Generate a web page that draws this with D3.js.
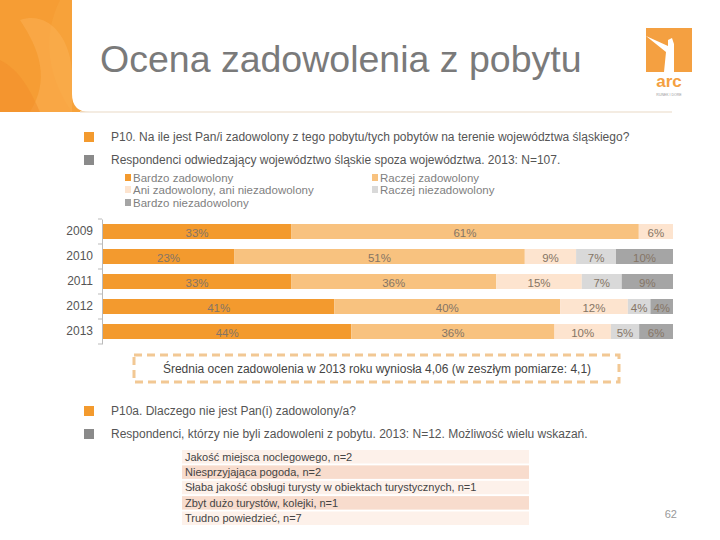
<!DOCTYPE html>
<head>
  <meta charset="utf-8" />
  <script src="https://d3js.org/d3.v7.min.js"></script>
  <style>
    body { margin: 0; background: #fff; }
    svg { font-family: "Liberation Sans", Arial, sans-serif; }
  </style>
</head>
<body>
  <div id="chart"></div>
  <script>
    // dane
    const years = ["2009", "2010", "2011", "2012", "2013"];
    const categories = ["Bardzo zadowolony", "Raczej zadowolony", "Ani zadowolony, ani niezadowolony", "Raczej niezadowolony", "Bardzo niezadowolony"];
    const bardzoZad = [33, 23, 33, 41, 44];
    const raczejZad = [61, 51, 36, 40, 36];
    const ani = [6, 9, 15, 12, 10];
    const raczejNiezad = [0, 7, 7, 4, 5];
    const bardzoNiezad = [0, 10, 9, 4, 6];
    const colors = ["#f39a2e", "#f8c27f", "#fde4cf", "#d9d9d9", "#a5a5a5"];

    const reasons = ["Jakość miejsca noclegowego, n=2", "Niesprzyjająca pogoda, n=2",
      "Słaba jakość obsługi turysty w obiektach turystycznych, n=1",
      "Zbyt dużo turystów, kolejki, n=1", "Trudno powiedzieć, n=7"];

    const width = 720, height = 540;
    const svg = d3.select("#chart").append("svg")
      .attr("width", width).attr("height", height);

    // naglowek
    svg.append("rect").attr("x", 0).attr("y", 0).attr("width", 90).attr("height", 112).attr("fill", "#f7a23a");
    svg.append("path").attr("d", "M0,0 L60,0 C40,40 50,80 72,112 L0,112 Z").attr("fill", "#f59a30").attr("opacity", 0.6);
    svg.append("path").attr("d", "M20,20 C50,10 70,40 72,70 L72,112 L30,112 C50,80 40,50 20,20 Z").attr("fill", "#fbb255").attr("opacity", 0.5);
    svg.append("path").attr("d", "M0,60 C20,70 30,90 40,112 L0,112 Z").attr("fill", "#f18e2a").attr("opacity", 0.5);
    svg.append("path")
      .attr("d", "M72,0 L720,0 L720,112 L90,112 Q72,112 72,94 Z")
      .attr("fill", "#fff");
    svg.append("line").attr("x1", 80).attr("x2", 672).attr("y1", 112).attr("y2", 112)
      .attr("stroke", "#f1e6d8").attr("stroke-width", 1.5);

    svg.append("text").attr("x", 100).attr("y", 72)
      .attr("font-size", 37.5).attr("fill", "#7a7a7a")
      .text("Ocena zadowolenia z pobytu");

    // logo
    const logo = svg.append("g").attr("transform", "translate(646,28)");
    logo.append("rect").attr("width", 46).attr("height", 44).attr("fill", "#f4a041");
    logo.append("path").attr("d", "M0,8 L22,18 L22,12 L26,10 L28,16 L28,44 L18,44 L20,24 Z").attr("fill", "#fff");
    logo.append("text").attr("x", 23).attr("y", 59).attr("text-anchor", "middle")
      .attr("font-size", 17).attr("font-weight", "bold").attr("fill", "#f4a041").text("arc");
    logo.append("text").attr("x", 23).attr("y", 68).attr("text-anchor", "middle")
      .attr("font-size", 3.5).attr("fill", "#999").text("RUNEK I DORE");

    // punkty
    function bullet(y, color, txt) {
      svg.append("rect").attr("x", 84).attr("y", y - 9).attr("width", 10).attr("height", 10).attr("fill", color);
      svg.append("text").attr("x", 111).attr("y", y).attr("font-size", 12).attr("fill", "#555").text(txt);
    }
    bullet(141, "#f39a2e", "P10. Na ile jest Pan/i zadowolony z tego pobytu/tych pobytów na terenie województwa śląskiego?");
    bullet(164, "#8a8a8a", "Respondenci odwiedzający województwo śląskie spoza województwa. 2013: N=107.");

    // legenda
    const legendPos = [[125, 182], [372, 182], [125, 194], [372, 194], [125, 207]];
    const legend = svg.append("g").selectAll("g").data(categories).join("g")
      .attr("transform", (d, i) => "translate(" + legendPos[i][0] + "," + legendPos[i][1] + ")");
    legend.append("rect").attr("x", 0).attr("y", -8).attr("width", 6).attr("height", 7)
      .attr("fill", (d, i) => colors[i]);
    legend.append("text").attr("x", 8).attr("y", 0).attr("font-size", 11.5).attr("fill", "#7f7f7f")
      .text(d => d);

    // wykres
    const table = years.map((y, i) => ({
      year: y, 0: bardzoZad[i], 1: raczejZad[i], 2: ani[i], 3: raczejNiezad[i], 4: bardzoNiezad[i]
    }));
    const series = d3.stack().keys([0, 1, 2, 3, 4]).offset(d3.stackOffsetExpand)(table);

    const x = d3.scaleLinear().domain([0, 1]).range([103, 673]);
    const y = d3.scaleBand().domain(years).range([219, 344]).paddingInner(0.4).paddingOuter(0.2);

    const layers = svg.append("g").selectAll("g").data(series).join("g")
      .attr("fill", (d, i) => colors[i]);
    layers.selectAll("rect").data(d => d).join("rect")
      .attr("x", d => x(d[0]))
      .attr("y", d => y(d.data.year))
      .attr("width", d => x(d[1]) - x(d[0]))
      .attr("height", y.bandwidth());

    const labels = svg.append("g").attr("font-size", 11.5).attr("fill", "#857565").attr("text-anchor", "middle");
    series.forEach(s => {
      s.forEach(d => {
        const v = d.data[s.key];
        if (v > 0) {
          labels.append("text")
            .attr("x", (x(d[0]) + x(d[1])) / 2)
            .attr("y", y(d.data.year) + y.bandwidth() / 2 + 5)
            .text(v + "%");
        }
      });
    });

    const yAxis = svg.append("g").attr("transform", "translate(102,0)")
      .call(d3.axisLeft(y).tickSize(0).tickPadding(9));
    yAxis.select(".domain").attr("stroke", "#bbb");
    yAxis.selectAll("text").attr("font-size", 12).attr("fill", "#555").attr("font-family", "Liberation Sans, Arial, sans-serif");
    yAxis.selectAll(".sep").data(d3.range(years.length + 1)).join("line").attr("class", "sep")
      .attr("x1", -4).attr("x2", 0)
      .attr("y1", i => 219 + i * y.step()).attr("y2", i => 219 + i * y.step())
      .attr("stroke", "#bbb");

    // srednia
    svg.append("rect").attr("x", 134).attr("y", 355).attr("width", 485).attr("height", 27)
      .attr("fill", "none").attr("stroke", "#f2c894").attr("stroke-width", 3).attr("stroke-dasharray", "8,5");
    svg.append("text").attr("x", 377).attr("y", 373).attr("text-anchor", "middle")
      .attr("font-size", 12).attr("fill", "#444")
      .text("Średnia ocen zadowolenia w 2013 roku wyniosła 4,06 (w zeszłym pomiarze: 4,1)");

    bullet(415, "#f39a2e", "P10a. Dlaczego nie jest Pan(i) zadowolony/a?");
    bullet(438, "#8a8a8a", "Respondenci, którzy nie byli zadowoleni z pobytu. 2013: N=12. Możliwość wielu wskazań.");

    // tabela
    const ty = d3.scaleBand().domain(reasons).range([450, 525]).paddingInner(0.12);
    const rows = svg.append("g").selectAll("g").data(reasons).join("g")
      .attr("transform", d => "translate(182," + ty(d) + ")");
    rows.append("rect").attr("width", 347).attr("height", ty.bandwidth())
      .attr("fill", (d, i) => i % 2 ? "#f8dccd" : "#fdf1ea");
    rows.append("text").attr("x", 3).attr("y", ty.bandwidth() - 3)
      .attr("font-size", 11).attr("fill", "#444").text(d => d);

    svg.append("text").attr("x", 677).attr("y", 518).attr("text-anchor", "end")
      .attr("font-size", 11).attr("fill", "#999").text("62");
  </script>
</body>
